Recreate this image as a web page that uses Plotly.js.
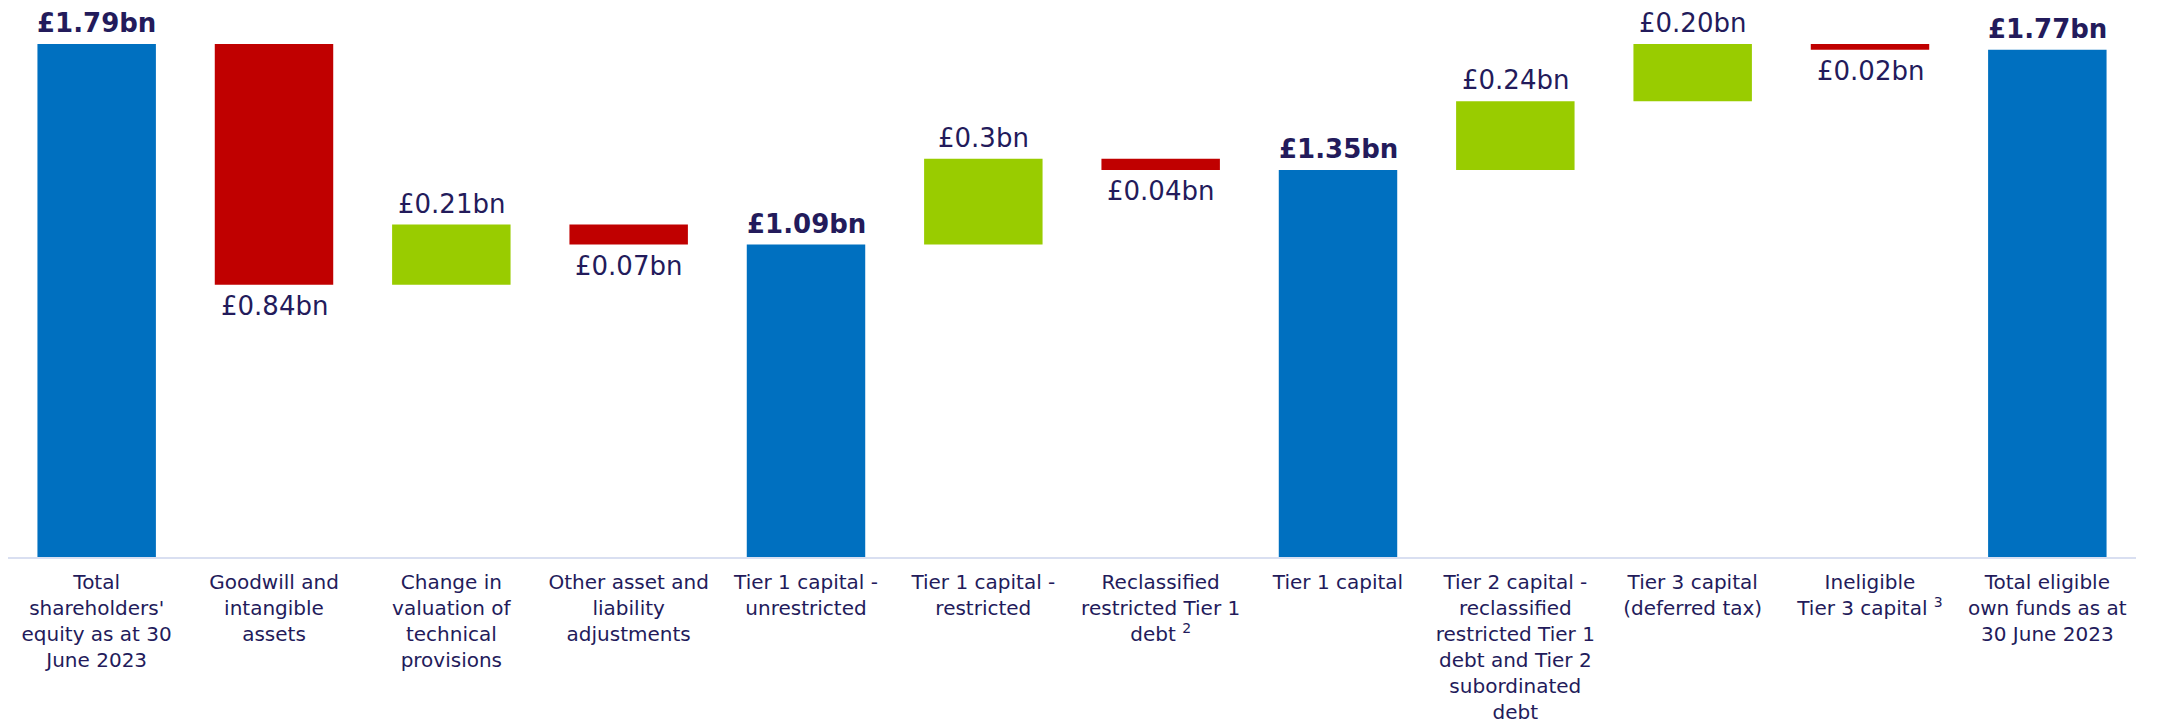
<!DOCTYPE html>
<html>
<head>
<meta charset="utf-8">
<script src="https://cdn.plot.ly/plotly-3.0.1.min.js"></script>
<style>
  html, body { margin: 0; padding: 0; background: #ffffff; }
  #chart { width: 2159px; height: 725px; }
</style>
</head>
<body>
<div id="chart"></div>
<script>
// ---- Data (values in £bn) ----
var categories = [
  "Total<br>shareholders'<br>equity as at 30<br>June 2023",
  "Goodwill and<br>intangible<br>assets",
  "Change in<br>valuation of<br>technical<br>provisions",
  "Other asset and<br>liability<br>adjustments",
  "Tier 1 capital -<br>unrestricted",
  "Tier 1 capital -<br>restricted",
  "Reclassified<br>restricted Tier 1<br>debt <sup>2</sup>",
  "Tier 1 capital",
  "Tier 2 capital -<br>reclassified<br>restricted Tier 1<br>debt and Tier 2<br>subordinated<br>debt",
  "Tier 3 capital<br>(deferred tax)",
  "Ineligible<br>Tier 3 capital <sup>3</sup>",
  "Total eligible<br>own funds as at<br>30 June 2023"
];
var measures = ["absolute", "relative", "relative", "relative", "total", "relative",
                "relative", "total", "relative", "relative", "relative", "total"];
var values = [1.79, -0.84, 0.21, -0.07, 1.09, 0.30, -0.04, 1.35, 0.24, 0.20, -0.02, 1.77];
var valueLabels = ["£1.79bn", "£0.84bn", "£0.21bn", "£0.07bn", "£1.09bn", "£0.3bn",
                   "£0.04bn", "£1.35bn", "£0.24bn", "£0.20bn", "£0.02bn", "£1.77bn"];

// ---- Styles ----
var BLUE = "#0070c0", RED = "#c00000", GREEN = "#99cc00", INK = "#231b5b";

// Waterfall y values: totals are computed by the library from the running sum
var wfY = values.map(function (v, i) { return measures[i] === "total" ? 0 : v; });

// Compute bar extents (for label placement)
var running = 0, tops = [], bottoms = [];
values.forEach(function (v, i) {
  if (measures[i] === "absolute") { running = v; tops.push(v); bottoms.push(0); }
  else if (measures[i] === "total") { tops.push(running); bottoms.push(0); }
  else {
    var start = running; running += v;
    tops.push(Math.max(start, running)); bottoms.push(Math.min(start, running));
  }
});

var annotations = values.map(function (v, i) {
  var isTotal = measures[i] !== "relative";
  var neg = v < 0 && !isTotal;
  return {
    x: categories[i], xref: "x", yref: "y",
    y: neg ? bottoms[i] : tops[i],
    yanchor: neg ? "top" : "bottom",
    yshift: neg ? -4 : 4,
    text: isTotal ? "<b>" + valueLabels[i] + "</b>" : valueLabels[i],
    showarrow: false,
    font: { family: "DejaVu Sans", size: 26, color: INK }
  };
});

var trace = {
  type: "waterfall",
  x: categories,
  y: wfY,
  measure: measures,
  increasing: { marker: { color: GREEN } },
  decreasing: { marker: { color: RED } },
  totals: { marker: { color: BLUE } },
  connector: { visible: false },
  hoverinfo: "skip",
  textinfo: "none"
};

var layout = {
  width: 2159, height: 725,
  margin: { l: 8, r: 23, t: 44, b: 168, pad: 0 },
  paper_bgcolor: "#ffffff", plot_bgcolor: "#ffffff",
  showlegend: false,
  waterfallgap: 0.332,
  xaxis: {
    type: "category",
    showline: true, linecolor: "#d9dff1", linewidth: 2,
    showgrid: false, zeroline: false, ticks: "",
    ticklabelstandoff: 6,
    tickfont: { family: "DejaVu Sans", size: 20, color: INK },
    automargin: false
  },
  yaxis: {
    range: [0, 1.79], visible: false, showgrid: false, zeroline: false, fixedrange: true
  },
  annotations: annotations
};

Plotly.newPlot("chart", [trace], layout, { displayModeBar: false, staticPlot: true });
</script>
</body>
</html>
